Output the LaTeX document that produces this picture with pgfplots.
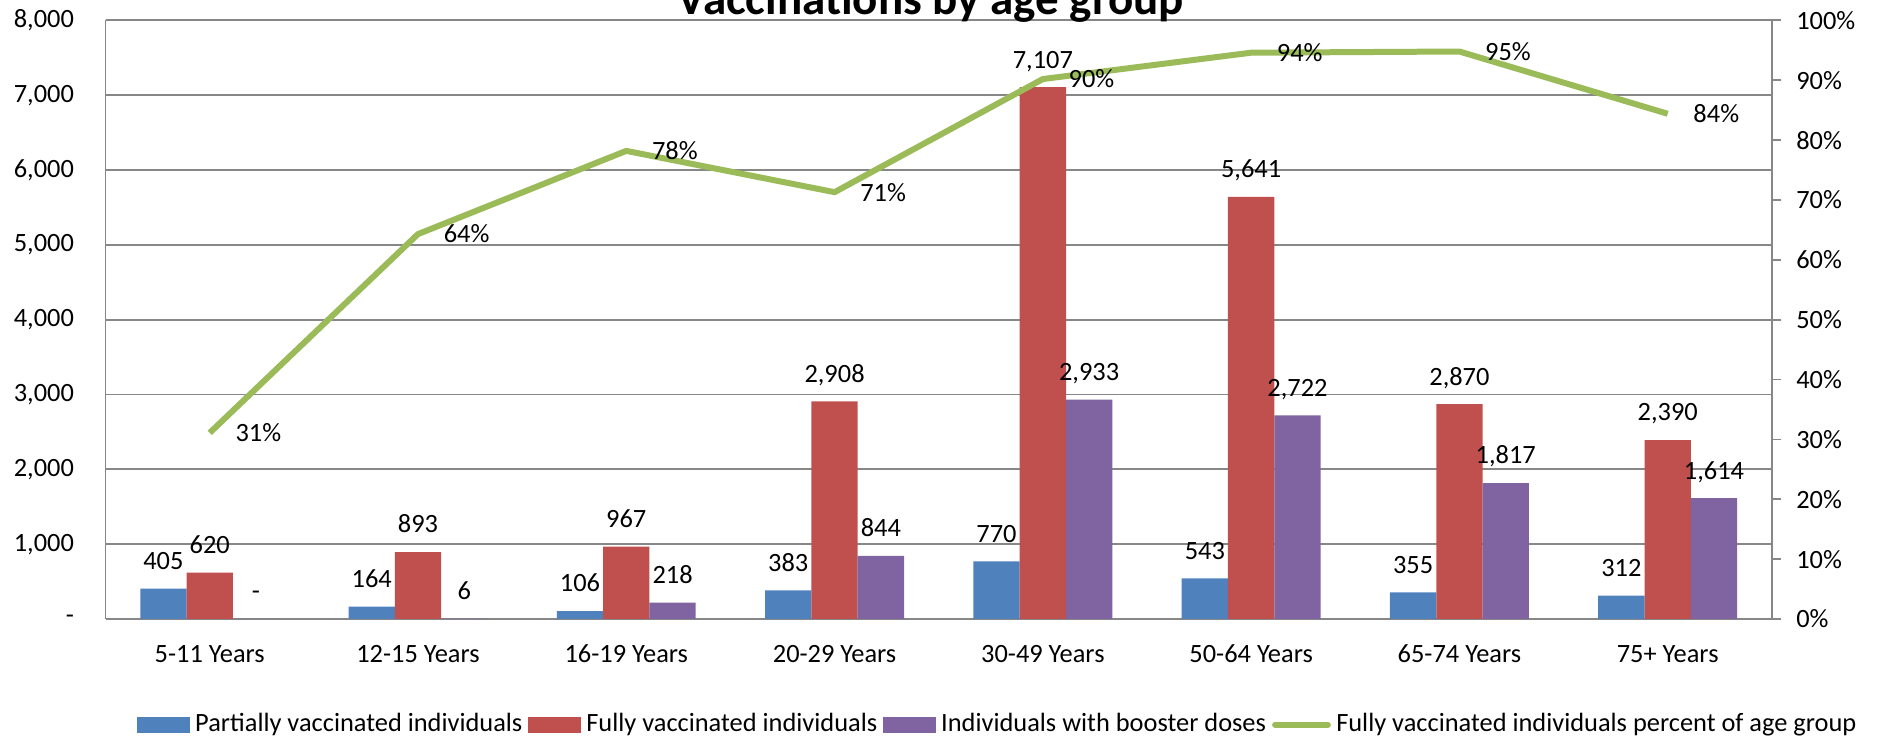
\documentclass[border=0pt]{standalone}
\usepackage{pgfplots}
\usepackage{pgfplotstable}
\pgfplotsset{compat=1.18}
\usepackage{fontspec}
\setmainfont{Carlito}
\definecolor{cblue}{HTML}{4F81BD}
\definecolor{cred}{HTML}{C0504D}
\definecolor{cpurple}{HTML}{8064A2}
\definecolor{cgreen}{HTML}{9BBB59}
\definecolor{cgrid}{HTML}{878787}

\pgfplotstableread{
x y lab
0 405 405
1 164 164
2 106 106
3 383 383
4 770 770
5 543 543
6 355 355
7 312 312
}\partial
\pgfplotstableread{
x y lab
0 620 620
1 893 893
2 967 967
3 2908 2,908
4 7107 7,107
5 5641 5,641
6 2870 2,870
7 2390 2,390
}\fully
\pgfplotstableread{
x y lab
0 0 -
1 6 6
2 218 218
3 844 844
4 2933 2,933
5 2722 2,722
6 1817 1,817
7 1614 1,614
}\booster
\pgfplotstableread{
x y lab
0 31.1 31\%
1 64.3 64\%
2 78.2 78\%
3 71.3 71\%
4 90.2 90\%
5 94.6 94\%
6 94.8 95\%
7 84.4 84\%
}\pct

\newcommand{\lblfont}{\fontsize{11}{13}\selectfont}

\begin{document}
\begin{tikzpicture}
\begin{axis}[
  at={(44pt,51.5pt)}, anchor=south west,
  scale only axis, width=694.5pt, height=249.5pt,
  xmin=-0.5, xmax=7.5, ymin=0, ymax=8000,
  axis x line*=bottom, axis y line*=left,
  axis line style={cgrid, line width=0.75pt},
  ybar=0pt, bar width=19.3pt,
  ymajorgrids, grid style={cgrid, line width=0.75pt},
  ytick={0,1000,...,8000},
  yticklabels={-,{1,000},{2,000},{3,000},{4,000},{5,000},{6,000},{7,000},{8,000}},
  xtick={0,...,7},
  xticklabels={5-11 Years,12-15 Years,16-19 Years,20-29 Years,30-49 Years,50-64 Years,65-74 Years,75+ Years},
  major tick length=0pt, tick style={draw=none},
  yticklabel style={font=\lblfont, inner sep=0pt, anchor=east, xshift=-13pt},
  xticklabel style={font=\lblfont, inner sep=0pt, anchor=base, yshift=-18pt},
  clip=false,
  nodes near coords, point meta=explicit symbolic,
  every node near coord/.append style={font=\lblfont, black, inner sep=0pt, anchor=base, yshift=8pt},
]
\addplot[fill=cblue, draw=none] table[x=x, y=y, meta=lab]{\partial};
\addplot[fill=cred, draw=none] table[x=x, y=y, meta=lab]{\fully};
\addplot[fill=cpurple, draw=none] table[x=x, y=y, meta=lab]{\booster};
\end{axis}
\begin{axis}[
  at={(44pt,51.5pt)}, anchor=south west,
  scale only axis, width=694.5pt, height=249.5pt,
  xmin=-0.5, xmax=7.5, ymin=0, ymax=100,
  axis y line*=right, axis x line=none,
  axis line style={cgrid, line width=0.75pt},
  ytick={0,10,...,100},
  yticklabels={0\%,10\%,20\%,30\%,40\%,50\%,60\%,70\%,80\%,90\%,100\%},
  tick align=outside, major tick length=4pt,
  ytick style={cgrid, line width=0.75pt},
  yticklabel style={font=\lblfont, inner sep=0pt, anchor=west, xshift=6pt},
  clip=false,
  legend style={at={(0.5349,0)}, anchor=center, yshift=-44pt, draw=none, fill=none,
    legend columns=-1, font=\lblfont,
    nodes={inner sep=0pt},
    /tikz/every odd column/.append style={column sep=2.25pt},
    /tikz/every even column/.append style={column sep=2.5pt}},
]
\addlegendimage{legend image code/.code={\fill[cblue] (0pt,-3.125pt) rectangle (21.5pt,3.125pt);}}
\addlegendentry{Partially vaccinated individuals}
\addlegendimage{legend image code/.code={\fill[cred] (0pt,-3.125pt) rectangle (21.5pt,3.125pt);}}
\addlegendentry{Fully vaccinated individuals}
\addlegendimage{legend image code/.code={\fill[cpurple] (0pt,-3.125pt) rectangle (21.5pt,3.125pt);}}
\addlegendentry{Individuals with booster doses}
\addplot[cgreen, line width=2.5pt, line join=round, mark=none,
  nodes near coords, point meta=explicit symbolic,
  every node near coord/.append style={font=\lblfont, black, inner sep=0pt, anchor=west, xshift=9.5pt, yshift=0pt},
  legend image code/.code={\draw[cgreen, line width=2.5pt, line cap=round] (1pt,0pt) -- (23pt,0pt);}]
  table[x=x, y=y, meta=lab]{\pct};
\addlegendentry{Fully vaccinated individuals percent of age group}
\end{axis}
\node[font=\bfseries\fontsize{19.6}{22}\selectfont, anchor=base] at (388pt,303.25pt) {Vaccinations by age group};
\pgfresetboundingbox
\useasboundingbox (0,0) rectangle (784pt,309.5pt);
\end{tikzpicture}
\end{document}
